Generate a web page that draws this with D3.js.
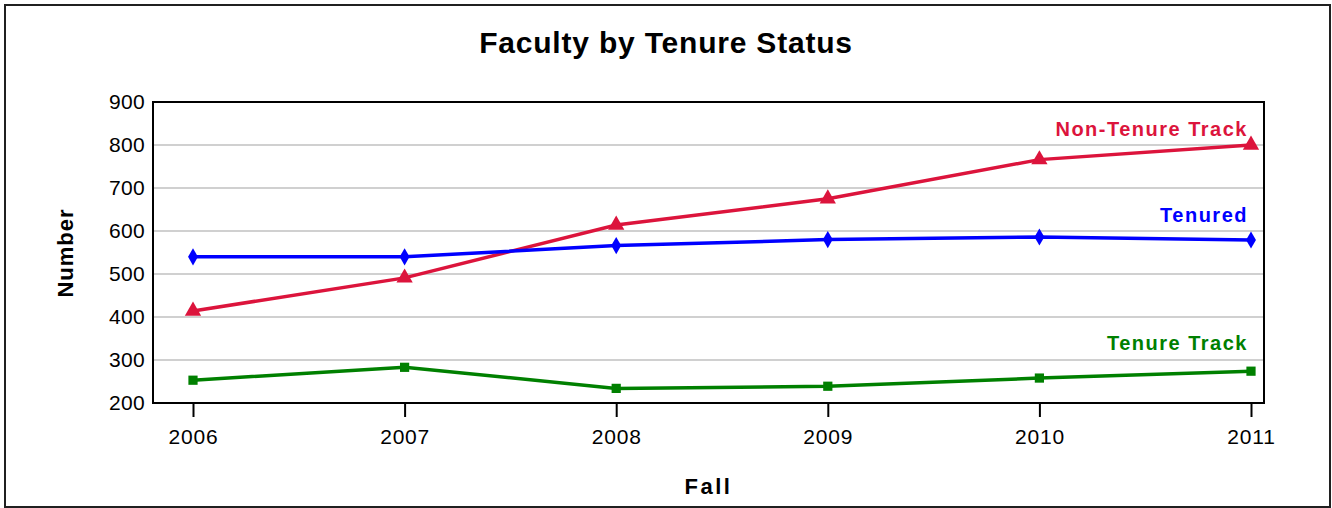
<!DOCTYPE html>
<html>
<head>
  <style>
    body { margin: 0; background: #fff; }
    text { font-family: Arial, "Liberation Sans", sans-serif; fill: #000; }
    .grid line { stroke: #c0c0c0; stroke-width: 1.5; }
  </style>
</head>
<body>
  <script src="https://d3js.org/d3.v7.min.js"></script>
  <script>
    var years = ["2006", "2007", "2008", "2009", "2010", "2011"];
    var yTicks = [200, 300, 400, 500, 600, 700, 800, 900];
    var tenured = [540, 540, 566, 580, 586, 579];
    var nonTenureTrack = [414, 491, 614, 675, 766, 800];
    var tenureTrack = [253, 283, 234, 239, 258, 274];

    var series = [
      { name: "Non-Tenure Track", values: nonTenureTrack, color: "#dc143c", symbol: d3.symbolTriangle, size: 115, labelY: 136 },
      { name: "Tenured", values: tenured, color: "#0000ff", symbol: d3.symbolDiamond, size: 85, labelY: 222 },
      { name: "Tenure Track", values: tenureTrack, color: "#008000", symbol: d3.symbolSquare, size: 85, labelY: 350 }
    ];

    var width = 1332, height = 508;
    var plotLeft = 153, plotRight = 1264, plotTop = 102, plotBottom = 403;

    var svg = d3.select("body").append("svg")
        .attr("width", width)
        .attr("height", height);

    // outer frame
    svg.append("rect")
        .attr("x", 5).attr("y", 5)
        .attr("width", 1325).attr("height", 502)
        .attr("fill", "none")
        .attr("stroke", "#202020")
        .attr("stroke-width", 2);

    var x = d3.scalePoint().domain(years).range([193, 1251]);
    var y = d3.scaleLinear().domain([200, 900]).range([plotBottom, plotTop]);

    // gridlines
    svg.append("g").attr("class", "grid")
      .selectAll("line")
      .data(yTicks.slice(1, -1))
      .enter().append("line")
        .attr("x1", plotLeft).attr("x2", plotRight)
        .attr("y1", d => y(d)).attr("y2", d => y(d));

    // plot box
    svg.append("rect")
        .attr("x", plotLeft).attr("y", plotTop)
        .attr("width", plotRight - plotLeft).attr("height", plotBottom - plotTop)
        .attr("fill", "none")
        .attr("stroke", "#000")
        .attr("stroke-width", 2);

    // y axis labels
    svg.append("g")
      .selectAll("text")
      .data(yTicks)
      .enter().append("text")
        .attr("x", 145)
        .attr("y", d => y(d))
        .attr("dy", "0.35em")
        .attr("text-anchor", "end")
        .style("font-size", "21px")
        .style("letter-spacing", "0.3px")
        .text(d => d);

    // x axis ticks and labels
    var xg = svg.append("g")
        .attr("transform", "translate(0," + plotBottom + ")")
        .call(d3.axisBottom(x).tickSize(14).tickPadding(12));
    xg.select(".domain").remove();
    xg.selectAll(".tick line").attr("stroke", "#000").attr("stroke-width", 2);
    xg.selectAll(".tick text")
        .style("font-size", "21px")
        .style("letter-spacing", "0.8px")
        .style("font-family", "Arial, 'Liberation Sans', sans-serif")
        .attr("fill", "#000");

    // lines
    var line = d3.line()
        .x((d, i) => x(years[i]))
        .y(d => y(d));

    series.forEach(s => {
      svg.append("path")
          .datum(s.values)
          .attr("d", line)
          .attr("fill", "none")
          .attr("stroke", s.color)
          .attr("stroke-width", 3.5);

      svg.append("g")
        .selectAll("path")
        .data(s.values)
        .enter().append("path")
          .attr("transform", (d, i) => "translate(" + x(years[i]) + "," + y(d) + ")")
          .attr("d", d3.symbol().type(s.symbol).size(s.size))
          .attr("fill", s.color);

      svg.append("text")
          .attr("x", 1248)
          .attr("y", s.labelY)
          .attr("text-anchor", "end")
          .style("font-size", "20px")
          .style("font-weight", "bold")
          .style("letter-spacing", "1.5px")
          .style("fill", s.color)
          .text(s.name);
    });

    // titles
    svg.append("text")
        .attr("x", 666).attr("y", 53)
        .attr("text-anchor", "middle")
        .style("font-size", "30px")
        .style("font-weight", "bold")
        .style("letter-spacing", "0.8px")
        .text("Faculty by Tenure Status");

    svg.append("text")
        .attr("x", (plotLeft + plotRight) / 2).attr("y", 494)
        .attr("text-anchor", "middle")
        .style("font-size", "22px")
        .style("font-weight", "bold")
        .style("letter-spacing", "2.5px")
        .text("Fall");

    svg.append("text")
        .attr("transform", "translate(73,253) rotate(-90)")
        .attr("text-anchor", "middle")
        .style("font-size", "22px")
        .style("font-weight", "bold")
        .style("letter-spacing", "1px")
        .text("Number");
  </script>
</body>
</html>
